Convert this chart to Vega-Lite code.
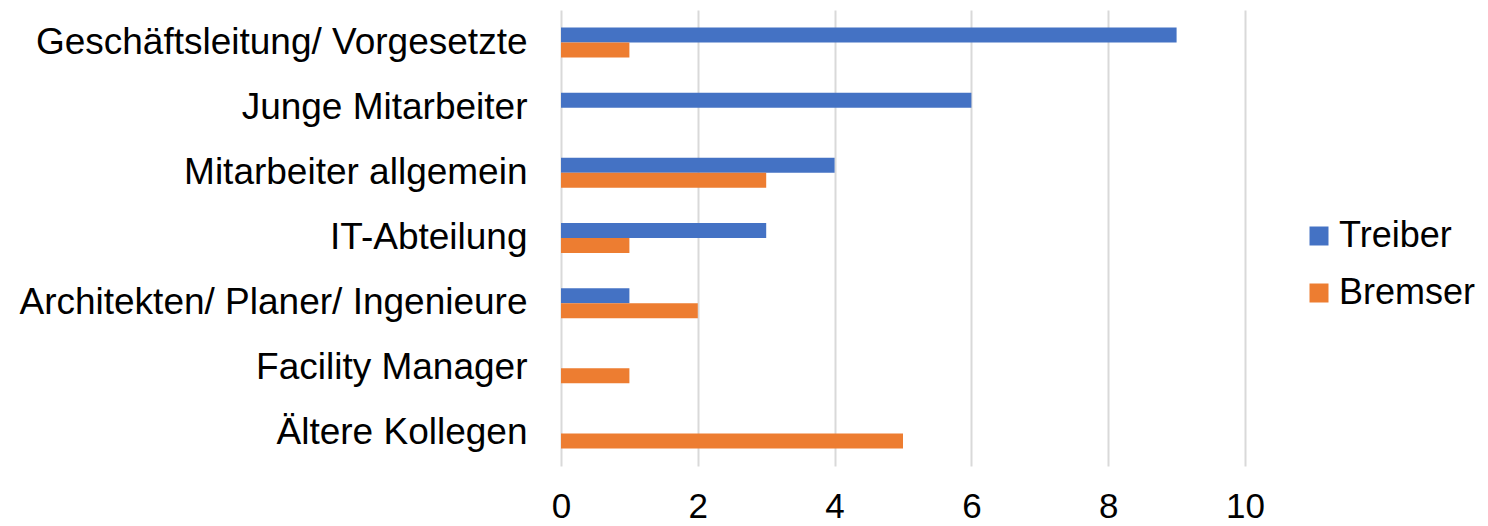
{
  "$schema": "https://vega.github.io/schema/vega-lite/v6.json",
  "width": 684,
  "height": 456,
  "autosize": {"type": "none"},
  "padding": {"left": 561, "top": 10, "right": 243, "bottom": 60},
  "background": "white",
  "config": {
    "view": {"stroke": null},
    "font": "Liberation Sans",
    "axis": {"labelFont": "Liberation Sans", "labelColor": "#000000"},
    "legend": {"labelFont": "Liberation Sans", "labelColor": "#000000", "padding": 0}
  },
  "data": {
    "values": [
      {"Gruppe": "Geschäftsleitung/ Vorgesetzte", "Reihe": "Treiber", "Anzahl": 9},
      {"Gruppe": "Geschäftsleitung/ Vorgesetzte", "Reihe": "Bremser", "Anzahl": 1},
      {"Gruppe": "Junge Mitarbeiter", "Reihe": "Treiber", "Anzahl": 6},
      {"Gruppe": "Junge Mitarbeiter", "Reihe": "Bremser", "Anzahl": 0},
      {"Gruppe": "Mitarbeiter allgemein", "Reihe": "Treiber", "Anzahl": 4},
      {"Gruppe": "Mitarbeiter allgemein", "Reihe": "Bremser", "Anzahl": 3},
      {"Gruppe": "IT-Abteilung", "Reihe": "Treiber", "Anzahl": 3},
      {"Gruppe": "IT-Abteilung", "Reihe": "Bremser", "Anzahl": 1},
      {"Gruppe": "Architekten/ Planer/ Ingenieure", "Reihe": "Treiber", "Anzahl": 1},
      {"Gruppe": "Architekten/ Planer/ Ingenieure", "Reihe": "Bremser", "Anzahl": 2},
      {"Gruppe": "Facility Manager", "Reihe": "Treiber", "Anzahl": 0},
      {"Gruppe": "Facility Manager", "Reihe": "Bremser", "Anzahl": 1},
      {"Gruppe": "Ältere Kollegen", "Reihe": "Treiber", "Anzahl": 0},
      {"Gruppe": "Ältere Kollegen", "Reihe": "Bremser", "Anzahl": 5}
    ]
  },
  "mark": {"type": "bar"},
  "encoding": {
    "y": {
      "field": "Gruppe",
      "type": "nominal",
      "sort": null,
      "scale": {"paddingInner": 0.54, "paddingOuter": 0.27},
      "axis": {
        "title": null,
        "domain": false,
        "ticks": false,
        "labelFontSize": 37,
        "labelPadding": 34,
        "labelLimit": 600
      }
    },
    "yOffset": {
      "field": "Reihe",
      "type": "nominal",
      "sort": ["Treiber", "Bremser"],
      "scale": {"paddingInner": 0, "paddingOuter": 0}
    },
    "x": {
      "field": "Anzahl",
      "type": "quantitative",
      "scale": {"domain": [0, 10], "nice": false},
      "axis": {
        "title": null,
        "values": [0, 2, 4, 6, 8, 10],
        "domain": false,
        "ticks": false,
        "grid": true,
        "gridColor": "#d9d9d9",
        "gridWidth": 2,
        "labelFontSize": 35,
        "labelPadding": 23,
        "labelFlush": false
      }
    },
    "color": {
      "field": "Reihe",
      "type": "nominal",
      "scale": {"domain": ["Treiber", "Bremser"], "range": ["#4472C4", "#ED7D31"]},
      "legend": {
        "title": null,
        "orient": "none",
        "legendX": 740,
        "legendY": 208,
        "symbolType": "square",
        "symbolSize": 361,
        "symbolStrokeWidth": 0,
        "labelFontSize": 36,
        "labelOffset": 2,
        "rowPadding": 21
      }
    }
  }
}
